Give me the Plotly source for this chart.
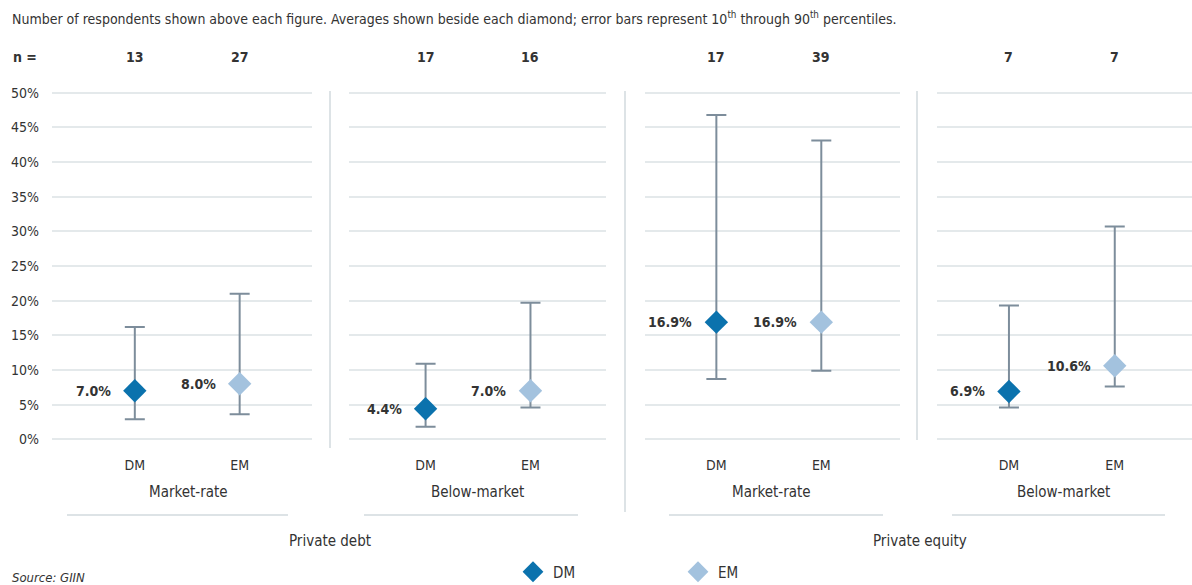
import plotly.graph_objects as go

# ---- data -------------------------------------------------------------
regions = ["DM", "EM"]
rate_types = ["Market-rate", "Below-market", "Market-rate", "Below-market"]
asset_classes = ["Private debt", "Private equity"]

n_dm = [13, 17, 17, 7]
n_em = [27, 16, 39, 7]

avg_dm = [7.0, 4.4, 16.9, 6.9]
avg_em = [8.0, 7.0, 16.9, 10.6]

p10_dm = [2.9, 1.8, 8.7, 4.6]
p90_dm = [16.2, 10.9, 46.8, 19.3]
p10_em = [3.6, 4.6, 9.9, 7.6]
p90_em = [21.0, 19.7, 43.1, 30.7]

y_ticks = list(range(0, 51, 5))
y_tick_labels = [f"{t}%" for t in y_ticks]

# ---- styling ----------------------------------------------------------
W, H = 1192, 585
FONT = "DejaVu Sans Condensed, Liberation Sans Narrow, Arial Narrow, sans-serif"
TXT = "#333333"
DM_COLOR = "#0b72ad"
EM_COLOR = "#a3c2de"
BAR_COLOR = "#7d8d9b"
GRID = "#e4e9eb"
RULE = "#dde3e6"


def px(x):
    return x / W


def py(y):
    return 1 - y / H


panel_px = [(52, 312), (349, 606), (645, 900), (937, 1192)]
panel_ranges = [(-0.79, 1.69), (-0.73, 1.72), (-0.68, 1.75), (-0.68, 1.73)]
plot_top, plot_bottom = 85.8, 446.2

fig = go.Figure()

series = [
    ("DM", DM_COLOR, n_dm, avg_dm, p10_dm, p90_dm),
    ("EM", EM_COLOR, n_em, avg_em, p10_em, p90_em),
]

annotations = []
for i in range(4):
    ax = "" if i == 0 else str(i + 1)
    for name, color, n_vals, avg, lo, hi in series:
        fig.add_trace(go.Scatter(
            x=[name], y=[avg[i]],
            xaxis="x" + ax, yaxis="y" + ax,
            mode="markers",
            name=name,
            legendgroup=name,
            showlegend=(i == 0),
            marker=dict(symbol="diamond", size=18, color=color,
                        line=dict(width=0)),
            error_y=dict(type="data", symmetric=False,
                         array=[hi[i] - avg[i]],
                         arrayminus=[avg[i] - lo[i]],
                         color=BAR_COLOR, thickness=2, width=10),
            hoverinfo="skip",
        ))
        # average label beside the diamond
        annotations.append(dict(
            x=name, y=avg[i], xref="x" + ax, yref="y" + ax,
            text=f"<b>{avg[i]:.1f}%</b>", showarrow=False,
            xanchor="right", yanchor="middle", xshift=-22,
            font=dict(family=FONT, size=14, color=TXT),
        ))
        # respondent count above the column
        annotations.append(dict(
            x=name, y=py(57), xref="x" + ax, yref="paper",
            text=f"<b>{n_vals[i]}</b>", showarrow=False,
            xanchor="center", yanchor="middle",
            font=dict(family=FONT, size=14, color=TXT),
        ))

    x0, x1 = panel_px[i]
    fig.update_layout(**{
        "xaxis" + ax: dict(
            domain=[px(x0), px(x1)], type="category",
            categoryorder="array", categoryarray=regions,
            range=list(panel_ranges[i]),
            showgrid=False, zeroline=False, showline=False, ticks="",
            tickfont=dict(family=FONT, size=14, color=TXT),
            ticklabelstandoff=9, fixedrange=True,
            anchor="y" + ax,
        ),
        "yaxis" + ax: dict(
            domain=[py(plot_bottom), py(plot_top)],
            range=[-1, 51], tickvals=y_ticks, ticktext=y_tick_labels,
            showticklabels=(i == 0),
            showgrid=True, gridcolor=GRID, gridwidth=1.6,
            zeroline=False, showline=False, ticks="",
            tickfont=dict(family=FONT, size=14, color=TXT),
            ticklabelstandoff=12, fixedrange=True,
            anchor="x" + ax,
            **({} if i == 0 else {"matches": "y"}),
        ),
    })

# rate-type labels and the rules under them
sub_centers = [188, 477, 771, 1063]
sub_rules = [(67, 288), (364, 578), (669, 883), (952, 1165)]
for label, cx in zip(rate_types, sub_centers):
    annotations.append(dict(
        x=px(cx), y=py(492), xref="paper", yref="paper",
        text=label, showarrow=False, xanchor="center", yanchor="middle",
        font=dict(family=FONT, size=15, color=TXT),
    ))

for label, cx in zip(asset_classes, [330, 920]):
    annotations.append(dict(
        x=px(cx), y=py(541), xref="paper", yref="paper",
        text=label, showarrow=False, xanchor="center", yanchor="middle",
        font=dict(family=FONT, size=15, color=TXT),
    ))

annotations += [
    dict(x=px(10), y=py(18), xref="paper", yref="paper", showarrow=False,
         xanchor="left", yanchor="middle",
         text=("Number of respondents shown above each figure. Averages shown "
               "beside each diamond; error bars represent 10<sup>th</sup> "
               "through 90<sup>th</sup> percentiles."),
         font=dict(family=FONT, size=14, color=TXT)),
    dict(x=px(25), y=py(57), xref="paper", yref="paper", showarrow=False,
         xanchor="center", yanchor="middle", text="<b>n =</b>",
         font=dict(family=FONT, size=14, color=TXT)),
    dict(x=px(10), y=py(577), xref="paper", yref="paper", showarrow=False,
         xanchor="left", yanchor="middle", text="<i>Source: GIIN</i>",
         font=dict(family=FONT, size=13, color=TXT)),
]

shapes = []
for x0, x1 in sub_rules:
    shapes.append(dict(type="line", xref="paper", yref="paper",
                       x0=px(x0), x1=px(x1), y0=py(515), y1=py(515),
                       line=dict(color=RULE, width=2)))
for sx, y_end in [(330, 448), (625, 512), (917, 440)]:
    shapes.append(dict(type="line", xref="paper", yref="paper",
                       x0=px(sx), x1=px(sx), y0=py(91), y1=py(y_end),
                       line=dict(color=RULE, width=2)))

fig.update_layout(
    width=W, height=H,
    margin=dict(l=0, r=0, t=0, b=0, autoexpand=False),
    paper_bgcolor="white", plot_bgcolor="white",
    font=dict(family=FONT, color=TXT),
    annotations=annotations,
    shapes=shapes,
    showlegend=True,
    legend=dict(orientation="h", x=px(513), y=py(572),
                xanchor="left", yanchor="middle",
                entrywidth=120, entrywidthmode="pixels",
                font=dict(family=FONT, size=15, color=TXT),
                bgcolor="rgba(0,0,0,0)", borderwidth=0,
                itemclick=False, itemdoubleclick=False),
)

fig.write_html("out.html")
